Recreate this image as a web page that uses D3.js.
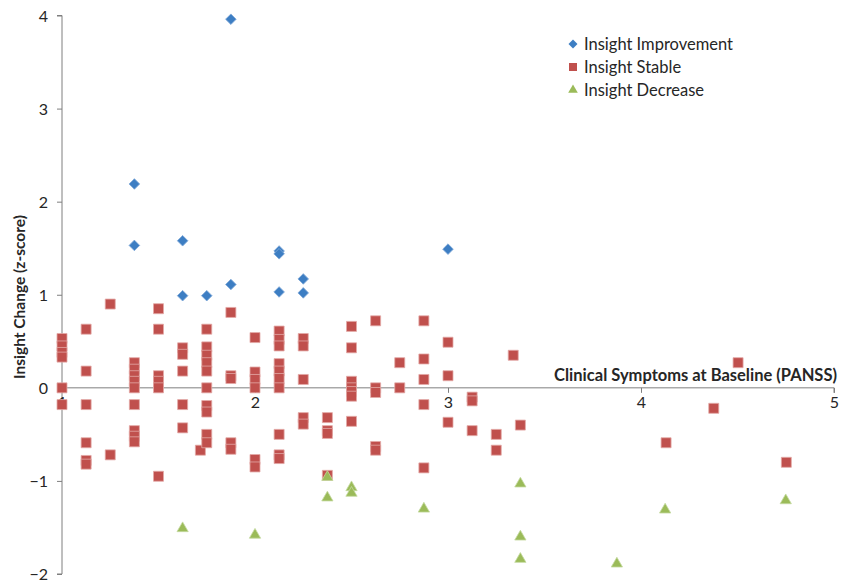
<!DOCTYPE html>
<html>
<head>
<meta charset="utf-8">
<script src="https://d3js.org/d3.v7.min.js"></script>
<style>
  body { margin: 0; background: #fff; }
  text { font-family: Lato, "Open Sans", sans-serif; fill: #262626; }
</style>
</head>
<body>
<svg id="chart" width="845" height="583"></svg>
<script>
  "use strict";
  const WIDTH = 845;
  const HEIGHT = 583;

  // values: [PANSS, insight change]
  const improvement = [
    [1.875, 3.96], [1.375, 2.19], [1.375, 1.53], [1.625, 1.58], [1.625, 0.99],
    [1.75, 0.99], [1.875, 1.11], [2.125, 1.47], [2.125, 1.44], [2.125, 1.03],
    [2.25, 1.17], [2.25, 1.02], [3, 1.49]
  ];
  const stable = [
    [1, 0.53], [1, 0.45], [1, 0.38], [1, 0.33], [1, 0], [1, -0.18],
    [1.125, 0.63], [1.125, 0.18], [1.125, -0.18], [1.125, -0.59], [1.125, -0.78], [1.125, -0.82],
    [1.25, 0.9], [1.25, -0.72],
    [1.375, 0.27], [1.375, 0.2], [1.375, 0.13], [1.375, 0.07], [1.375, 0], [1.375, -0.18],
    [1.375, -0.46], [1.375, -0.52], [1.375, -0.58],
    [1.5, 0.85], [1.5, 0.63], [1.5, 0.13], [1.5, 0.07], [1.5, 0], [1.5, -0.95],
    [1.625, 0.43], [1.625, 0.36], [1.625, 0.18], [1.625, -0.18], [1.625, -0.43],
    [1.717, -0.67],
    [1.75, 0.63], [1.75, 0.44], [1.75, 0.35], [1.75, 0.27], [1.75, 0.18], [1.75, 0],
    [1.75, -0.19], [1.75, -0.26], [1.75, -0.5], [1.75, -0.59],
    [1.875, 0.81], [1.875, 0.13], [1.875, 0.1], [1.875, -0.59], [1.875, -0.66],
    [2, 0.54], [2, 0.17], [2, 0.09], [2, 0], [2, -0.77], [2, -0.85],
    [2.125, 0.61], [2.125, 0.52], [2.125, 0.45], [2.125, 0.26], [2.125, 0.18], [2.125, 0.1],
    [2.125, 0], [2.125, -0.5], [2.125, -0.72], [2.125, -0.76],
    [2.25, 0.53], [2.25, 0.45], [2.25, 0.09], [2.25, -0.32], [2.25, -0.39],
    [2.375, -0.32], [2.375, -0.46], [2.375, -0.49], [2.375, -0.94],
    [2.5, 0.66], [2.5, 0.43], [2.5, 0.07], [2.5, 0], [2.5, -0.04], [2.5, -0.09], [2.5, -0.36],
    [2.625, 0.72], [2.625, 0], [2.625, -0.05], [2.625, -0.63], [2.625, -0.67],
    [2.75, 0.27], [2.75, 0],
    [2.875, 0.72], [2.875, 0.31], [2.875, 0.09], [2.875, -0.18], [2.875, -0.86],
    [3, 0.49], [3, 0.13], [3, -0.37],
    [3.125, -0.1], [3.125, -0.14], [3.125, -0.46],
    [3.25, -0.5], [3.25, -0.67],
    [3.338, 0.35], [3.375, -0.4],
    [4.13, -0.59], [4.377, -0.22], [4.503, 0.27], [4.753, -0.8]
  ];
  const decrease = [
    [1.625, -1.51], [2, -1.58], [2.375, -0.96], [2.375, -1.18], [2.5, -1.07],
    [2.5, -1.13], [2.875, -1.3], [3.375, -1.03], [3.375, -1.6], [3.375, -1.84],
    [3.875, -1.89], [4.125, -1.31], [4.75, -1.21]
  ];
  const xTicks = [1, 2, 3, 4, 5];
  const yTicks = [-2, -1, 0, 1, 2, 3, 4];
  const seriesNames = ["Insight Improvement", "Insight Stable", "Insight Decrease"];

  const COLORS = ["#3D7EC3", "#C0504D", "#9BBB59"];
  const STROKES = ["#7FA9D8", "#E3A9A7", "#C4D99F"];

  const svg = d3.select("#chart");

  const x = d3.scaleLinear().domain([1, 5]).range([62, 834]);
  const y = d3.scaleLinear().domain([-2, 4]).range([574, 15.5]);

  // Axes
  const yAxis = svg.append("g")
    .attr("transform", `translate(${x(1)},0)`)
    .call(d3.axisLeft(y).tickValues(yTicks).tickSize(5).tickPadding(9)
      .tickFormat(d => d < 0 ? "\u2212" + Math.abs(d) : d));
  yAxis.select(".domain").attr("stroke", "#7f7f7f").attr("d", `M-5,${y(4)}H0V${y(-2)}H-5`);
  yAxis.selectAll(".tick line").attr("stroke", "#7f7f7f");
  yAxis.selectAll("text").style("font-size", "16px").attr("dy", "0.35em");

  const xAxis = svg.append("g")
    .attr("transform", `translate(0,${y(0)})`)
    .call(d3.axisBottom(x).tickValues(xTicks).tickSize(5).tickPadding(4)
      .tickFormat(d3.format("d")));
  xAxis.select(".domain").attr("stroke", "#7f7f7f").attr("d", `M${x(1)},0H${x(5)}V5`);
  xAxis.selectAll(".tick line").attr("stroke", "#7f7f7f");
  xAxis.selectAll("text").style("font-size", "16px");

  // Axis titles
  svg.append("text")
    .attr("x", 837)
    .attr("y", 381)
    .attr("text-anchor", "end")
    .style("font-size", "16.5px")
    .style("font-weight", "bold")
    .text("Clinical Symptoms at Baseline (PANSS)");

  svg.append("text")
    .attr("transform", `translate(25,297) rotate(-90)`)
    .attr("text-anchor", "middle")
    .style("font-size", "15.5px")
    .style("font-weight", "bold")
    .text("Insight Change (z-score)");

  // Markers
  const diamond = d3.symbol().type(d3.symbolSquare).size(56)();
  const square = d3.symbol().type(d3.symbolSquare).size(100)();
  const triangle = d3.symbol().type(d3.symbolTriangle).size(55)();
  const shapes = [diamond, square, triangle];
  const rotations = [45, 0, 0];

  const series = [improvement, stable, decrease];
  // stable first, then decrease, then improvement on top
  [1, 2, 0].forEach(i => {
    svg.append("g")
      .selectAll("path")
      .data(series[i])
      .join("path")
      .attr("d", shapes[i])
      .attr("transform", d => `translate(${x(d[0])},${y(d[1])}) rotate(${rotations[i]})`)
      .attr("fill", COLORS[i])
      .attr("stroke", STROKES[i])
      .attr("stroke-width", 0.8);
  });

  // Legend
  const legend = svg.append("g").attr("transform", "translate(573,44)");
  seriesNames.forEach((name, i) => {
    const row = legend.append("g").attr("transform", `translate(0,${i * 23})`);
    row.append("path")
      .attr("d", d3.symbol().type(i === 2 ? d3.symbolTriangle : d3.symbolSquare)
        .size(i === 1 ? 64 : 40)())
      .attr("transform", i === 0 ? "rotate(45)" : null)
      .attr("fill", COLORS[i]);
    row.append("text")
      .attr("x", 11)
      .attr("dy", "0.35em")
      .style("font-size", "16.5px")
      .text(name);
  });
</script>
</body>
</html>
